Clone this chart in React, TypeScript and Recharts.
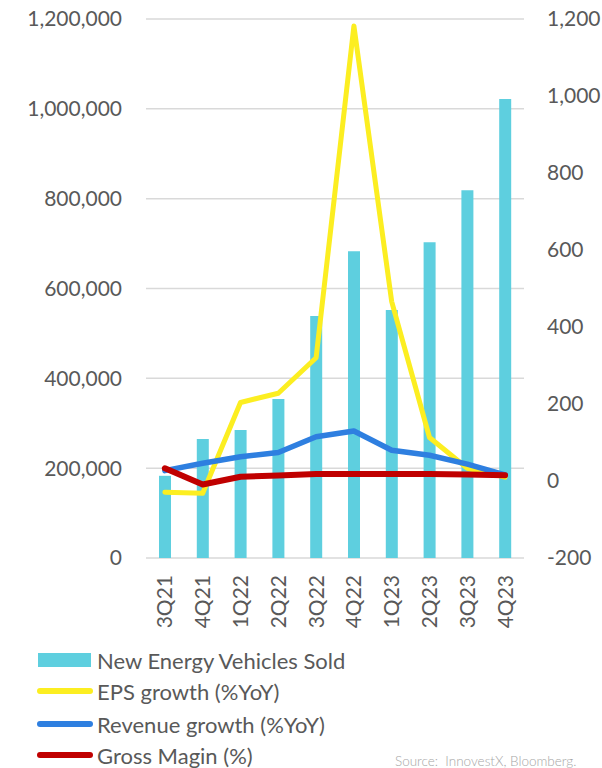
import { ComposedChart, Bar, Line, XAxis, YAxis, CartesianGrid } from 'recharts';

const QUARTERS = ['3Q21', '4Q21', '1Q22', '2Q22', '3Q22', '4Q22', '1Q23', '2Q23', '3Q23', '4Q23'];
const NEV_SOLD = [183000, 265000, 285000, 354000, 539000, 683000, 552000, 703000, 819000, 1022000];
const EPS_GROWTH = [-29, -32, 204, 228, 320, 1182, 466, 113, 33, 10];
const REVENUE_GROWTH = [27, 46, 63, 74, 115, 130, 80, 67, 44, 16];
const GROSS_MARGIN = [33, -9, 11, 14, 18, 18, 18, 18, 17, 15];
const LEFT_TICKS = [0, 200000, 400000, 600000, 800000, 1000000, 1200000];
const RIGHT_TICKS = [-200, 0, 200, 400, 600, 800, 1000, 1200];

const TEXT = '#595959';
const FONT = 'Lato, sans-serif';

const data = QUARTERS.map((q, i) => ({
  quarter: q,
  nev: NEV_SOLD[i],
  eps: EPS_GROWTH[i],
  rev: REVENUE_GROWTH[i],
  gm: GROSS_MARGIN[i],
}));

const legendItems = [
  { label: 'New Energy Vehicles Sold', color: '#5ECFDF', kind: 'bar' },
  { label: 'EPS growth (%YoY)', color: '#FCEE21', kind: 'line' },
  { label: 'Revenue growth (%YoY)', color: '#2E7FE0', kind: 'line' },
  { label: 'Gross Magin (%)', color: '#C00000', kind: 'line' },
];
const legendTops = [660, 691, 724, 755];

const QuarterTick = (props: any) => {
  const { x, y, payload } = props;
  return (
    <text
      transform={`translate(${x},${y + 9}) rotate(-90)`}
      textAnchor="end"
      dy="0.36em"
      fill={TEXT}
      fontSize={21}
      fontFamily={FONT}
    >
      {payload.value}
    </text>
  );
};

export default function App() {
  return (
    <div style={{ position: 'absolute', left: 0, top: 0, width: 602, height: 768, overflow: 'hidden', fontFamily: FONT, background: '#fff' }}>
      <ComposedChart width={602} height={640} data={data} margin={{ top: 19, right: 0, left: 0, bottom: 0 }}>
        <CartesianGrid vertical={false} yAxisId="left" stroke="#D9D9D9" strokeWidth={1.5} />
        <XAxis dataKey="quarter" height={82} axisLine={false} tickLine={false} interval={0} tick={<QuarterTick />} />
        <YAxis
          yAxisId="left"
          width={146}
          domain={[0, 1200000]}
          ticks={LEFT_TICKS}
          tickFormatter={(v: number) => v.toLocaleString('en-US')}
          axisLine={false}
          tickLine={false}
          tickSize={0}
          tickMargin={24}
          tick={{ fill: TEXT, fontSize: 21, fontFamily: FONT }}
        />
        <YAxis
          yAxisId="right"
          orientation="right"
          width={78}
          domain={[-200, 1200]}
          ticks={RIGHT_TICKS}
          tickFormatter={(v: number) => v.toLocaleString('en-US')}
          axisLine={false}
          tickLine={false}
          tickSize={0}
          tickMargin={23}
          tick={{ fill: TEXT, fontSize: 21, fontFamily: FONT, textAnchor: 'start' }}
        />
        <Bar yAxisId="left" dataKey="nev" fill="#5ECFDF" barSize={12} isAnimationActive={false} />
        <Line yAxisId="right" type="linear" dataKey="eps" stroke="#FCEE21" strokeWidth={5} dot={false} activeDot={false} strokeLinecap="round" strokeLinejoin="round" isAnimationActive={false} />
        <Line yAxisId="right" type="linear" dataKey="rev" stroke="#2E7FE0" strokeWidth={5.5} dot={false} activeDot={false} strokeLinecap="round" strokeLinejoin="round" isAnimationActive={false} />
        <Line yAxisId="right" type="linear" dataKey="gm" stroke="#C00000" strokeWidth={6} dot={false} activeDot={false} strokeLinecap="round" strokeLinejoin="round" isAnimationActive={false} />
      </ComposedChart>

      {legendItems.map((item, i) => (
        <div
          key={item.label}
          style={{ position: 'absolute', left: 37, top: legendTops[i] - 14, height: 28, display: 'flex', alignItems: 'center', whiteSpace: 'nowrap' }}
        >
          {item.kind === 'bar' ? (
            <div style={{ width: 53, height: 14, marginLeft: 1, marginRight: 6, background: item.color }} />
          ) : (
            <div style={{ width: 56, height: 6, marginRight: 4, borderRadius: 3, background: item.color }} />
          )}
          <span style={{ fontSize: 22, color: TEXT }}>{item.label}</span>
        </div>
      ))}

      <div style={{ position: 'absolute', left: 395, top: 753, fontSize: 13.5, lineHeight: '16px', color: '#A6A6A6', whiteSpace: 'nowrap', fontWeight: 300 }}>
        Source:&nbsp;&nbsp;InnovestX, Bloomberg.
      </div>
    </div>
  );
}
